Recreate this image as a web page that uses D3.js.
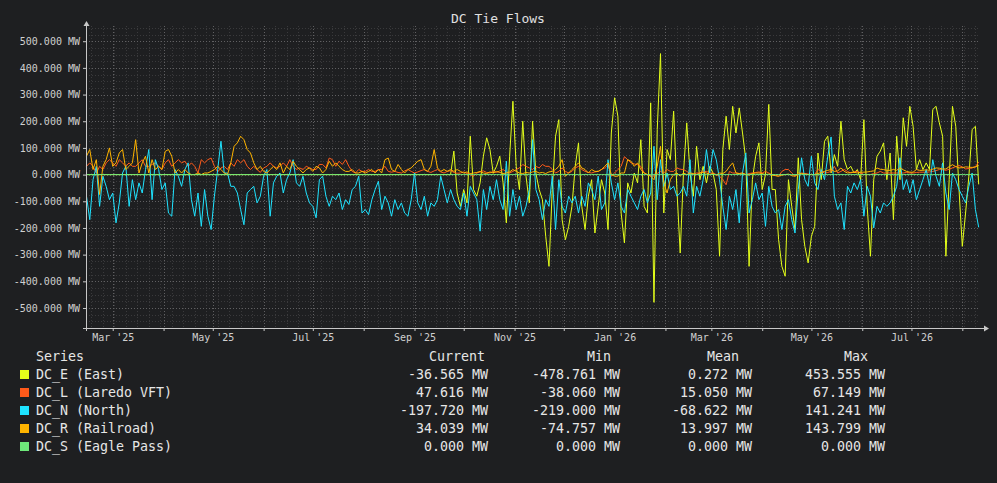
<!DOCTYPE html>
<html>
<head>
<meta charset="utf-8">
<title>DC Tie Flows</title>
<script src="https://cdn.jsdelivr.net/npm/d3@7"></script>
<style>
  html, body { margin: 0; padding: 0; background: #1e1f21; }
  svg { display: block; font-family: "DejaVu Sans Mono", monospace; }
</style>
</head>
<body>
<div id="chart"></div>
<script>
// Samples every 2 days, starting at the left edge of the graph
var startDate = new Date(2025, 1, 13)
var stepDays = 2

var dcE = [
  0,0,0,0,0,0,0,0,0,0,0,0,0,0,0,0,0,0,0,0,0,0,0,0,0,0,0,0,0,0,
  0,0,0,0,0,0,0,0,0,0,0,0,0,0,0,0,0,0,0,0,0,0,0,0,0,0,0,0,0,0,
  0,0,0,0,0,0,0,0,0,0,0,0,0,0,0,0,0,0,0,0,0,0,0,0,0,0,0,0,0,0,
  0,0,0,0,0,0,0,0,0,0,0,0,0,0,0,0,0,0,0,0,0,
  0,88,-69,-119,-56,-106,144,-56,-81,-31, 69,138,94,6,31,69,-31,-181,69,275,
  31,-56,200,-6,-106,200,6,-56,-94,-231,
  -344,-56,144,206,-169,-244,-194,-119,31, 119,-119,-206,-81,-19,-219,-119,-19,-69,
  -206,156,288,219,-144,-256,-31,-69,
  6,-31,131,-119,-144,269,-478.8,169,453.6,-144,94,56,238,-56,
  -294,6,194,6, -81,106,-19,31,-31,31,6,-56,-306,
  94,219,94,256,156,250,156,56,-344,-19, 69,119,-56,
  0,263,-56,-56,-244,-344,-381,-19,-119,-206, 63,-169,-269,-331,-231,-194,81,-19,125,144,
  6,75,31,200,56,19,31,6,19,-19, 206,-119,-306,-19,69,88,119,-19,81,-169,
  144,-19,213,106,256,181,19,56,19,44, 19,244,256,194,144,-306,-19,256,181,-56,
  -269,-144,-6,169,181,-36.6
]

var dcL = [
  31,44,31,5,31,19,44,56,44,31, 56,44,31,44,31,31,44,56,31,31,
  38,44,31,19,44,56,31,44,56,44, 50,31,44,31,6,56,44,56,62,31,
  10,25,31,19,44,31,56,44,56,31, 19,31,19,8,25,31,44,31,25,31,
  44,31,56,31,19,25,19,31,25,19,
  19,38,38,25,62,56,31,50,38,56, 31,12,6,19,12,12,19,12,12,19,
  19,31,12,9,
  12,8,6,14,19,12,6,10,15,19, 12,8,14,19,10,6,12,15,8,5,
  6,10,4,0,-6,6,10,14,8,6, 12,8,14,19,10,6,12,19,25,38,
  31,25,19,31,25,38,31,
  31,19,6,12,25,12,6,12,25,31, 19,12,8,6,10,12,19,25,37,-6,
  6,19,31,67,56,44,40,37,31,6, 0,-4,-6,4,12,6,19,12,12,25,
  20,19,12,4,0,6,6,12,12,6, 6,0,-6,-19,-38,12,6,6,4,6,
  0,4,6,8,10,6,
  12,6,0,-3,-6,12,19,19,6,-6, 0,6,4,2,0,0,19,12,6,8,
  12,31,6,12,19,12,6,10,12,6, 0,0,0,4,6,12,6,6,6,6,
  6,6,6,8,6,6,8,9,9,9, 10,12,15,19,18,16,20,25,30,34,
  29,21,23,25,29,47.6
]

var dcN = [
  -81,-169,-19,31,-119,-6,-44,-94,-69,-181, -106,6,31,-119,-19,-94,-31,-69,19,94,
  -94,56,19,-56,-31,-144,-156,19,-6,-44, 19,44,-94,-156,-69,-194,-56,-156,-206,-81,
  19,125,6,6,-44,-44,-69,-131,-188,-69, -56,-44,-106,-81,-6,19,-156,-31,-6,6,
  -69,-19,6,56,-31,-44,-6,-69,-106,-119,
  -162,-19,-6,-81,-119,-81,-94,-69,-131,-94, -112,-56,-44,-6,-144,-131,-150,-94,-56,-25,
  -131,-81,-106,-156,-94,-131,-106,-144,-156,-94, 6,-106,-131,-81,-156,-106,-119,-94,-6,
  -56,-106,-56,-94,-119,-131,-69,-156,-44,-69, -94,-212,-56,-131,-44,-94,-19,-94,-131,50,
  -156,-56,-131,-81,-156,-119,-56,131,-56,-94, -169,-94,
  -119,-6,-206,-19,-119,-144,-81,-106,-81,-144, -81,-119,-31,-56,-94,-6,-131,-106,
  56,-31,-94,-31,-119,-144,-56,-81,-106,-131, -81,-56,-106,-69,106,-94,56,-44,6,-56,
  -44,-81,-69,-44,-81,56,-144,-44,-81,-19, 94,6,94,56,-19,-119,-206,-81,-131,-56,
  -181,6,81,-144,-94,-31,-94,-69,
  -194,-44,-119,-144,-131,-206,-119,-94,-169, -219,-56,63,-19,-44,69,-31,-56,19,
  -19,69,141.2,-81,-131,-106,-206,-44,-69, -31,-56,-19,-156,-44,-81,-200,-119,-144,
  -106,-119,-106,-81,-44,63,-56,-19,-69,-19, -94,-56,-19,19,-44,56,-6,-44,44,-69,
  -131,6,-19,-56,-81,-106,-44,6,-131,-197.7
]

var dcR = [
  69,94,19,56,-74.8,31,56,100,31,44, 81,94,19,31,44,131,6,44,69,6,
  56,19,31,19,87,94,69,6,19,6, 19,6,0,0,6,0,6,6,12,19,
  31,19,6,0,44,106,119,143.8,131,94, 81,44,19,31,12,6,19,31,19,44,
  6,31,19,50,31,19,6,19,25,12,
  31,25,6,19,50,31,44,31,19,12, 12,19,6,6,12,6,12,19,6,19,
  6,56,62,19,12,38,19,6,19,25, 38,50,56,19,12,31,94,25,12,19,
  12,19,12,19,
  12,6,10,4,6,8,12,6,4,10, 6,12,8,4,6,10,19,12,6,4,
  8,6,10,12,6,8,4,
  10,12,19,31,56,-6,6,19,31,44, 25,19,6,19,12,12,19,31,44,0,
  -6,-6,6,6,56,50,31,44,19,6, 0,-6,-19,31,106,-31,-69,-19,0,6,
  -6,6,0,6,4,0,6,8,6,0, 4,-2,6,4,12,30,44,6,4,6,
  0,-2,4,6,6,4,
  0,2,-2,-4,-6,-2,0,2,-4,-6, 6,4,2,0,0,0,4,8,12,16,
  19,12,14,25,12,6,8,9,6,9, 9,10,12,14,25,20,19,16,16,19,
  16,25,18,12,9,9,19,16,16,18, 16,20,25,24,21,21,30,37,30,25,
  26,29,28,27,29,34
]

var dcS = [
  0,0,0,0,0,0,0,0,0,0,0,0,0,0,0,0,0,0,0,0,0,0,0,0,0,0,0,0,0,0,
  0,0,0,0,0,0,0,0,0,0,0,0,0,0,0,0,0,0,0,0,0,0,0,0,0,0,0,0,0,0,
  0,0,0,0,0,0,0,0,0,0,0,0,0,0,0,0,0,0,0,0,0,0,0,0,0,0,0,0,0,0,
  0,0,0,0,0,0,0,0,0,0,0,0,0,0,0,0,0,0,0,0,0,0,0,0,0,0,0,0,0,0,
  0,0,0,0,0,0,0,0,0,0,0,0,0,0,0,0,0,0,0,0,0,0,0,0,0,0,0,0,0,0,
  0,0,0,0,0,0,0,0,0,0,0,0,0,0,0,0,0,0,0,0,0,0,0,0,0,0,0,0,0,0,
  0,0,0,0,0,0,0,0,0,0,0,0,0,0,0,0,0,0,0,0,0,0,0,0,0,0,0,0,0,0,
  0,0,0,0,0,0,0,0,0,0,0,0,0,0,0,0,0,0,0,0,0,0,0,0,0,0,0,0,0,0,
  0,0,0,0,0,0,0,0,0,0,0,0,0,0,0,0,0,0,0,0,0,0,0,0,0,0,0,0,0,0,
  0,0,0
]

var seriesNames = ['DC_E (East)', 'DC_L (Laredo VFT)', 'DC_N (North)', 'DC_R (Railroad)', 'DC_S (Eagle Pass)']
var currentVals = ['-36.565 MW', '47.616 MW', '-197.720 MW', '34.039 MW', '0.000 MW']
var minVals     = ['-478.761 MW', '-38.060 MW', '-219.000 MW', '-74.757 MW', '0.000 MW']
var meanVals    = ['0.272 MW', '15.050 MW', '-68.622 MW', '13.997 MW', '0.000 MW']
var maxVals     = ['453.555 MW', '67.149 MW', '141.241 MW', '143.799 MW', '0.000 MW']
var yTickValues = [-500, -400, -300, -200, -100, 0, 100, 200, 300, 400, 500]

var colors = ['#e4ff1a', '#ff5a1a', '#1ee3ff', '#ffb400', '#6ee87a']
var seriesValues = [dcE, dcL, dcN, dcR, dcS]

var width = 997, height = 483
var plotLeft = 86, plotRight = 980, plotTop = 26, plotBottom = 328

var dates = dcN.map(function (d, i) { return d3.timeDay.offset(startDate, i * stepDays) })

var svg = d3.select('#chart').append('svg')
  .attr('width', width)
  .attr('height', height)

svg.append('rect')
  .attr('width', width)
  .attr('height', height)
  .attr('fill', '#1e1f21')

var x = d3.scaleTime()
  .domain([new Date(2025, 1, 12, 17), new Date(2026, 7, 11, 19)])
  .range([plotLeft, plotRight])

var y = d3.scaleLinear()
  .domain([-575, 557])
  .range([plotBottom, plotTop])

var fmt = d3.formatLocale({ decimal: '.', thousands: ',', grouping: [3], currency: ['', ''], minus: '-' }).format('.3f')

// Grid: weekly and 25 MW minor lines, monthly and 100 MW major lines
var grid = svg.append('g')
  .attr('fill', 'none')
  .attr('stroke-dasharray', '1,2')
  .attr('shape-rendering', 'crispEdges')

grid.selectAll('.vminor')
  .data(d3.timeSunday.range(x.domain()[0], x.domain()[1]))
  .enter().append('line')
  .attr('x1', function (d) { return Math.round(x(d)) + 0.5 })
  .attr('x2', function (d) { return Math.round(x(d)) + 0.5 })
  .attr('y1', plotTop)
  .attr('y2', plotBottom)
  .attr('stroke', '#3a3a3c')

grid.selectAll('.hminor')
  .data(d3.range(-575, 557, 25).filter(function (v) { return v % 100 !== 0 }))
  .enter().append('line')
  .attr('x1', plotLeft)
  .attr('x2', plotRight)
  .attr('y1', function (d) { return Math.round(y(d)) + 0.5 })
  .attr('y2', function (d) { return Math.round(y(d)) + 0.5 })
  .attr('stroke', '#3a3a3c')

grid.selectAll('.vmajor')
  .data(d3.timeMonth.range(x.domain()[0], x.domain()[1]))
  .enter().append('line')
  .attr('x1', function (d) { return Math.round(x(d)) + 0.5 })
  .attr('x2', function (d) { return Math.round(x(d)) + 0.5 })
  .attr('y1', plotTop)
  .attr('y2', plotBottom)
  .attr('stroke', '#606062')

grid.selectAll('.hmajor')
  .data(yTickValues)
  .enter().append('line')
  .attr('x1', plotLeft)
  .attr('x2', plotRight)
  .attr('y1', function (d) { return Math.round(y(d)) + 0.5 })
  .attr('y2', function (d) { return Math.round(y(d)) + 0.5 })
  .attr('stroke', '#606062')

// Series lines
var line = d3.line()
  .x(function (d, i) { return x(dates[i]) })
  .y(function (d) { return y(d) })

svg.append('g')
  .selectAll('path')
  .data(seriesValues)
  .enter().append('path')
  .attr('d', line)
  .attr('fill', 'none')
  .attr('stroke', function (d, i) { return colors[i] })
  .attr('stroke-width', 1)
  .attr('stroke-linejoin', 'round')

// Axes
var axisColor = '#c8c8c8'

var yAxis = svg.append('g')
  .attr('transform', 'translate(' + plotLeft + ',0)')
  .call(d3.axisLeft(y).tickValues(yTickValues).tickSize(3).tickPadding(3)
    .tickFormat(function (d) { return fmt(d) + ' MW' }))
yAxis.select('.domain').remove()

var xTicks = svg.append('g')
  .attr('transform', 'translate(0,' + plotBottom + ')')
  .call(d3.axisBottom(x).ticks(d3.timeMonth.every(1)).tickSize(3).tickFormat(''))
xTicks.select('.domain').remove()

var xLabels = svg.append('g')
  .attr('transform', 'translate(0,' + plotBottom + ')')
  .call(d3.axisBottom(x).ticks(d3.timeMonth.every(2)).tickSize(0).tickPadding(6)
    .tickFormat(d3.timeFormat("%b '%y")))
xLabels.select('.domain').remove()

svg.selectAll('.tick line').attr('stroke', axisColor)
svg.selectAll('.tick text')
  .attr('fill', '#d0d0d0')
  .style('font-family', '"DejaVu Sans Mono", monospace')
  .style('font-size', '10px')

// Axis lines with arrow heads
svg.append('line')
  .attr('x1', plotLeft + 0.5).attr('x2', plotLeft + 0.5)
  .attr('y1', plotBottom + 3).attr('y2', plotTop - 3)
  .attr('stroke', axisColor)
svg.append('path')
  .attr('d', 'M' + (plotLeft - 2.5) + ',' + plotTop + 'L' + (plotLeft + 0.5) + ',' + (plotTop - 5) + 'L' + (plotLeft + 3.5) + ',' + plotTop + 'Z')
  .attr('fill', axisColor)

svg.append('line')
  .attr('x1', plotLeft - 3).attr('x2', plotRight + 5)
  .attr('y1', plotBottom + 0.5).attr('y2', plotBottom + 0.5)
  .attr('stroke', axisColor)
svg.append('path')
  .attr('d', 'M' + (plotRight + 4) + ',' + (plotBottom - 2.5) + 'L' + (plotRight + 9) + ',' + (plotBottom + 0.5) + 'L' + (plotRight + 4) + ',' + (plotBottom + 3.5) + 'Z')
  .attr('fill', axisColor)

// Title
svg.append('text')
  .attr('x', 498)
  .attr('y', 23)
  .attr('text-anchor', 'middle')
  .attr('fill', '#e0e0e0')
  .style('font-size', '13px')
  .text('DC Tie Flows')

// Legend table
var legend = svg.append('g')
  .attr('fill', '#e6e6e6')
  .style('font-size', '13.3px')

var headers = [
  { text: 'Series', x: 36 },
  { text: 'Current', x: 429 },
  { text: 'Min', x: 587 },
  { text: 'Mean', x: 707 },
  { text: 'Max', x: 844 }
]
legend.selectAll('.hdr')
  .data(headers)
  .enter().append('text')
  .attr('x', function (d) { return d.x })
  .attr('y', 361)
  .text(function (d) { return d.text })

var rowY = function (i) { return 379 + i * 18 }

legend.selectAll('.swatch')
  .data(seriesNames)
  .enter().append('rect')
  .attr('x', 20)
  .attr('y', function (d, i) { return rowY(i) - 9 })
  .attr('width', 9)
  .attr('height', 9)
  .attr('fill', function (d, i) { return colors[i] })

legend.selectAll('.name')
  .data(seriesNames)
  .enter().append('text')
  .attr('x', 36)
  .attr('y', function (d, i) { return rowY(i) })
  .text(function (d) { return d })

var columns = [
  { vals: currentVals, x: 488 },
  { vals: minVals, x: 620 },
  { vals: meanVals, x: 752 },
  { vals: maxVals, x: 885 }
]
columns.forEach(function (col) {
  legend.selectAll(null)
    .data(col.vals)
    .enter().append('text')
    .attr('x', col.x)
    .attr('y', function (d, i) { return rowY(i) })
    .attr('text-anchor', 'end')
    .text(function (d) { return d })
})
</script>
</body>
</html>
